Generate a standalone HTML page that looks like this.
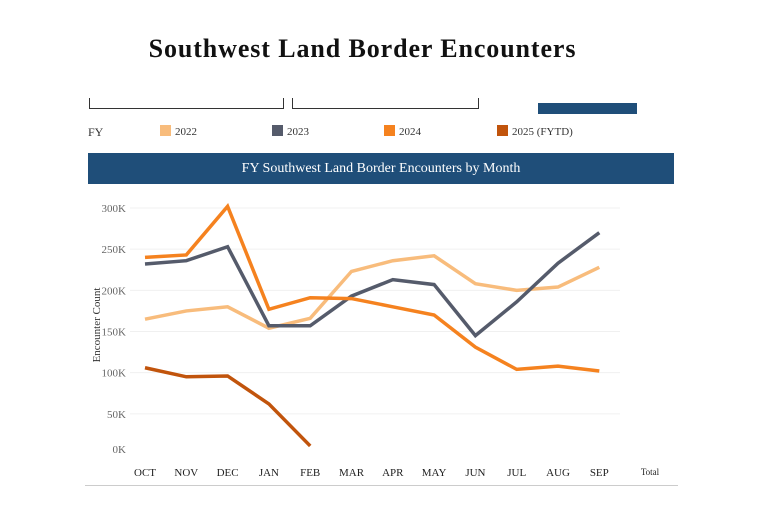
<!DOCTYPE html>
<html><head><meta charset="utf-8"><style>
body{margin:0;width:766px;height:526px;background:#fff;font-family:"Liberation Serif",serif;overflow:hidden;position:relative}
.a{position:absolute}
</style></head><body>
<div class="a" style="left:0;width:725px;top:34px;text-align:center;font-size:26px;letter-spacing:0.9px;font-weight:bold;color:#111">Southwest Land Border Encounters</div>
<div class="a" style="left:89px;top:98px;width:193px;height:10px;border:1px solid #333;border-top:none"></div>
<div class="a" style="left:292px;top:98px;width:185px;height:10px;border:1px solid #333;border-top:none"></div>
<div class="a" style="left:538px;top:103px;width:99px;height:11px;background:#1f4e79"></div>
<div class="a" style="left:88px;top:125px;font-size:12px;color:#333">FY</div>
<div class="a" style="left:160px;top:125px;font-size:11px;color:#333"><span style="display:inline-block;width:11px;height:11px;background:#f8bc7c;vertical-align:-1px;margin-right:4px"></span>2022</div>
<div class="a" style="left:272px;top:125px;font-size:11px;color:#333"><span style="display:inline-block;width:11px;height:11px;background:#555b6b;vertical-align:-1px;margin-right:4px"></span>2023</div>
<div class="a" style="left:384px;top:125px;font-size:11px;color:#333"><span style="display:inline-block;width:11px;height:11px;background:#f5821f;vertical-align:-1px;margin-right:4px"></span>2024</div>
<div class="a" style="left:497px;top:125px;font-size:11px;color:#333"><span style="display:inline-block;width:11px;height:11px;background:#c1540c;vertical-align:-1px;margin-right:4px"></span>2025 (FYTD)</div>
<div class="a" style="left:88px;top:153px;width:586px;height:31px;background:#1f4e79;color:#fff;font-size:14px;line-height:31px;text-align:center">FY Southwest Land Border Encounters by Month</div>
<div class="a" style="left:85px;top:485px;width:593px;height:1px;background:#ccc"></div>
<svg class="a" style="left:0;top:0" width="766" height="526" id="chart"></svg>
<script>
const months=["OCT","NOV","DEC","JAN","FEB","MAR","APR","MAY","JUN","JUL","AUG","SEP"];
const yTicks=[0,50,100,150,200,250,300];
const fy2022=[165,175,180,154,166,223,236,242,208,200,204,228];
const fy2023=[232,236,253,157,157,193,213,207,145,186,233,270];
const fy2024=[240,243,302,177,191,190,180,170,131,104,108,102];
const fy2025=[106,95,96,62,11];
const series=[["2022",fy2022,"#f8bc7c"],["2023",fy2023,"#555b6b"],["2024",fy2024,"#f5821f"],["2025",fy2025,"#c1540c"]];
const svg=document.getElementById('chart');const NS="http://www.w3.org/2000/svg";
const x=i=>145+i*41.3;const y=v=>455-v*0.8233;
function mk(t,a){const e=document.createElementNS(NS,t);for(const k in a)e.setAttribute(k,a[k]);svg.appendChild(e);return e;}
yTicks.forEach(v=>{
 if(v>0){const g=mk('line',{x1:130,x2:620,y1:y(v),y2:y(v),stroke:'#f0f0f0','stroke-width':1});
 
 }
 const t=mk('text',{x:126,y:(v===0?449:y(v))+4,'text-anchor':'end','font-size':11,fill:'#666','font-family':'Liberation Serif, serif'});
 t.textContent=v+'K';
 
 
});
months.forEach((m,i)=>{const t=mk('text',{x:x(i),y:476,'text-anchor':'middle','font-size':11,fill:'#222','font-family':'Liberation Serif, serif'});
 t.textContent=m;
 
 });
const tot=mk('text',{x:650,y:475,'text-anchor':'middle','font-size':9,fill:'#222','font-family':'Liberation Serif, serif'});tot.textContent='Total';


const yt=mk('text',{x:0,y:0,transform:'translate(100,325) rotate(-90)','text-anchor':'middle','font-size':11,fill:'#333','font-family':'Liberation Serif, serif'});yt.textContent='Encounter Count';


series.forEach(([n,d,c])=>{const p=mk('polyline',{points:d.map((v,i)=>x(i)+','+y(v)).join(' '),fill:'none',stroke:c,'stroke-width':3.5,'stroke-linejoin':'miter'});
 
 });
</script>
</body></html>
